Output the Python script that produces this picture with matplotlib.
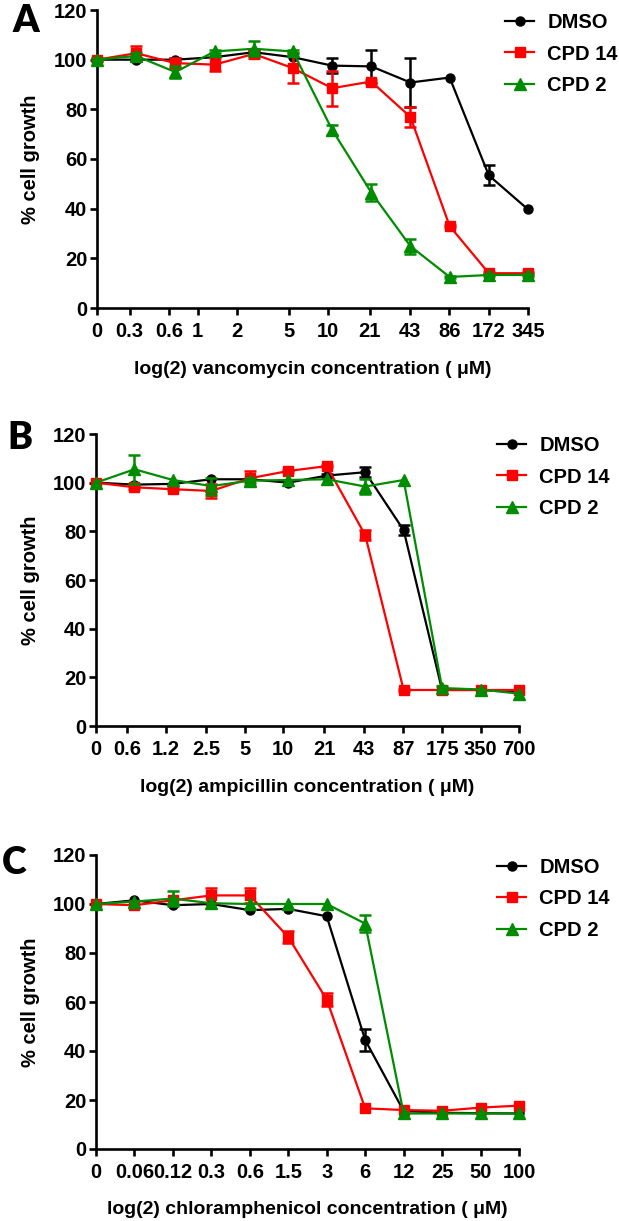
import numpy as np
import matplotlib
matplotlib.use('Agg')
import matplotlib.pyplot as plt
from matplotlib.ticker import FixedLocator, FixedFormatter, NullLocator

plt.rcParams['font.family'] = ['Liberation Sans', 'DejaVu Sans']
plt.rcParams['font.weight'] = 'bold'

series_names = ['DMSO', 'CPD 14', 'CPD 2']
series_colors = ['#000000', '#ff0000', '#008c00']
series_markers = ['o', 's', '^']

# ---------------- Panel A : vancomycin ----------------
vanco_conc = [0, 0.337, 0.674, 1.348, 2.695, 5.39, 10.78, 21.56, 43.125, 86.25, 172.5, 345]
vanco_tick_vals = [0.3, 0.6, 1, 2, 5, 10, 21, 43, 86, 172, 345]
vanco_tick_labels = ['0', '0.3', '0.6', '1', '2', '5', '10', '21', '43', '86', '172', '345']
vanco_dmso = [100, 100, 100, 101, 103, 101, 97.6, 97.3, 90.8, 92.8, 53.4, 39.7]
vanco_dmso_err = [0, 0.5, 0.5, 0, 1, 0, 3, 6.5, 10, 0, 4, 0]
vanco_cpd14 = [100, 102.6, 98.6, 98, 102.3, 96.6, 88.5, 91.2, 76.9, 33, 14, 14]
vanco_cpd14_err = [0.5, 3, 2, 2.5, 1.5, 6, 7, 0.5, 4, 0.5, 0.5, 0.5]
vanco_cpd2 = [100, 101.5, 95, 103.3, 104.4, 103.3, 71.8, 46.5, 24.9, 12.5, 13.3, 13.3]
vanco_cpd2_err = [0.5, 1, 2.5, 0.5, 3, 0.5, 2, 3.5, 3, 0.5, 0.5, 0.5]

# ---------------- Panel B : ampicillin ----------------
ampi_conc = [0, 0.684, 1.367, 2.734, 5.469, 10.94, 21.875, 43.75, 87.5, 175, 350, 700]
ampi_tick_vals = [0.6, 1.2, 2.5, 5, 10, 21, 43, 87, 175, 350, 700]
ampi_tick_labels = ['0', '0.6', '1.2', '2.5', '5', '10', '21', '43', '87', '175', '350', '700']
ampi_dmso = [100, 99.2, 99.5, 101.4, 101.4, 100, 102.9, 104.3, 80.5, 14.8, 14.8, 14]
ampi_dmso_err = [0, 0, 0, 0, 0, 0, 0.5, 2, 2, 0, 0, 0]
ampi_cpd14 = [100, 98.1, 97.3, 96.6, 101.8, 104.8, 106.8, 78.5, 14.8, 14.8, 14.8, 14.8]
ampi_cpd14_err = [0, 0.5, 0.5, 3, 3, 0.5, 0.5, 2, 0.5, 0, 0, 0]
ampi_cpd2 = [100, 105.5, 101.1, 98.6, 100.8, 101.1, 101.4, 98.4, 101.1, 15.6, 15, 13.3]
ampi_cpd2_err = [0, 6, 0, 3.5, 1, 0, 0, 3, 0, 1, 0, 0]

# ---------------- Panel C : chloramphenicol ----------------
chlor_conc = [0, 0.0977, 0.1953, 0.3906, 0.78125, 1.5625, 3.125, 6.25, 12.5, 25, 50, 100]
chlor_tick_labels = ['0', '0.06', '0.12', '0.3', '0.6', '1.5', '3', '6', '12', '25', '50', '100']
chlor_dmso = [100, 101.5, 99.5, 100, 97.5, 98, 95, 44.5, 15.5, 14.8, 14.6, 14.5]
chlor_dmso_err = [0, 0, 0, 0, 0, 0, 0, 4.5, 0, 0, 0, 0]
chlor_cpd14 = [100, 99.5, 101.5, 103.5, 103.5, 86.5, 61, 16.6, 15.9, 15.6, 16.9, 17.7]
chlor_cpd14_err = [0, 0, 0, 3, 3, 2.5, 2.5, 0, 0, 0, 0, 0]
chlor_cpd2 = [100, 101, 102.2, 100.3, 100, 100, 100, 92, 14.5, 14.5, 14.5, 14.5]
chlor_cpd2_err = [0, 0, 3, 0, 0, 0, 0, 3.5, 0, 0, 0, 0]

W, H = 619, 1221
fig = plt.figure(figsize=(W / 100, H / 100), dpi=100)


def axes_px(left, right, top, bottom):
    return fig.add_axes([left / W, 1 - bottom / H, (right - left) / W, (bottom - top) / H])


def plot_positions(conc):
    arr = np.array(conc, dtype=float)
    zero_pos = arr[arr > 0].min() / 2.0
    arr[arr == 0] = zero_pos
    return arr, zero_pos


def draw_panel(ax, conc, data, errs, tick_vals, tick_labels, xlabel, legend_xy,
               letter, letter_xy, xlabel_off):
    x, zero_pos = plot_positions(conc)
    for name, vals, err, color, marker in zip(series_names, data, errs,
                                              series_colors, series_markers):
        vals = np.array(vals, float)
        err = np.array(err, float)
        ms = 8 if marker == '^' else 6.5
        ax.plot(x, vals, color=color, marker=marker, ms=ms, lw=1.6,
                clip_on=False, zorder=3, label=name)
        m = err > 0
        ax.errorbar(x[m], vals[m], yerr=err[m], fmt='none', ecolor=color,
                    elinewidth=1.8, capsize=4, capthick=1.8, clip_on=False, zorder=3)
    ax.set_xscale('log', base=2)
    if tick_vals is None:
        ticks = list(x)
    else:
        ticks = [zero_pos] + list(tick_vals)
    ax.xaxis.set_major_locator(FixedLocator(ticks))
    ax.xaxis.set_major_formatter(FixedFormatter(tick_labels))
    ax.xaxis.set_minor_locator(NullLocator())
    ax.set_xlim(x[0], x[-1])
    ax.set_ylim(0, 120)
    ax.set_yticks([0, 20, 40, 60, 80, 100, 120])
    for s in ['top', 'right']:
        ax.spines[s].set_visible(False)
    for s in ['left', 'bottom']:
        ax.spines[s].set_linewidth(1.9)
    ax.tick_params(axis='both', direction='out', length=5, width=1.9,
                   labelsize=14.5, pad=2)
    ax.tick_params(axis='x', pad=5)
    for lab in ax.get_xticklabels() + ax.get_yticklabels():
        lab.set_fontweight('bold')
    ax.set_xlabel(xlabel, fontsize=14, fontweight='bold', va='center')
    ax.xaxis.set_label_coords(0.5, xlabel_off)
    ax.set_ylabel('% cell growth', fontsize=14.5, fontweight='bold', va='center')
    bb = ax.get_position()
    ax.yaxis.set_label_coords((30 / W - bb.x0) / bb.width, 0.5)
    ax.legend(loc='center left', bbox_to_anchor=(legend_xy[0] / W, 1 - legend_xy[1] / H),
              bbox_transform=fig.transFigure, frameon=False, handlelength=1.45,
              handletextpad=0.65, labelspacing=0.62, borderpad=0, borderaxespad=0,
              prop={'size': 14.5, 'weight': 'bold'})
    fig.text(letter_xy[0] / W, 1 - letter_xy[1] / H, letter, fontsize=27,
             fontweight='heavy', family=['Lato', 'DejaVu Sans'], ha='center', va='center')


axA = axes_px(97, 528, 10, 308)
draw_panel(axA, vanco_conc, [vanco_dmso, vanco_cpd14, vanco_cpd2],
           [vanco_dmso_err, vanco_cpd14_err, vanco_cpd2_err],
           vanco_tick_vals, vanco_tick_labels,
           'log(2) vancomycin concentration ( μM)', (505, 54), 'A', (26, 21), -61 / 298)

axB = axes_px(96, 519, 434, 726)
draw_panel(axB, ampi_conc, [ampi_dmso, ampi_cpd14, ampi_cpd2],
           [ampi_dmso_err, ampi_cpd14_err, ampi_cpd2_err],
           ampi_tick_vals, ampi_tick_labels,
           'log(2) ampicillin concentration ( μM)', (497, 477), 'B', (20, 438), -62 / 292)

axC = axes_px(96, 519, 855, 1149)
draw_panel(axC, chlor_conc, [chlor_dmso, chlor_cpd14, chlor_cpd2],
           [chlor_dmso_err, chlor_cpd14_err, chlor_cpd2_err],
           None, chlor_tick_labels,
           'log(2) chloramphenicol concentration ( μM)', (497, 899), 'C', (14, 863), -60 / 294)

fig.savefig('out.png', dpi=100)
